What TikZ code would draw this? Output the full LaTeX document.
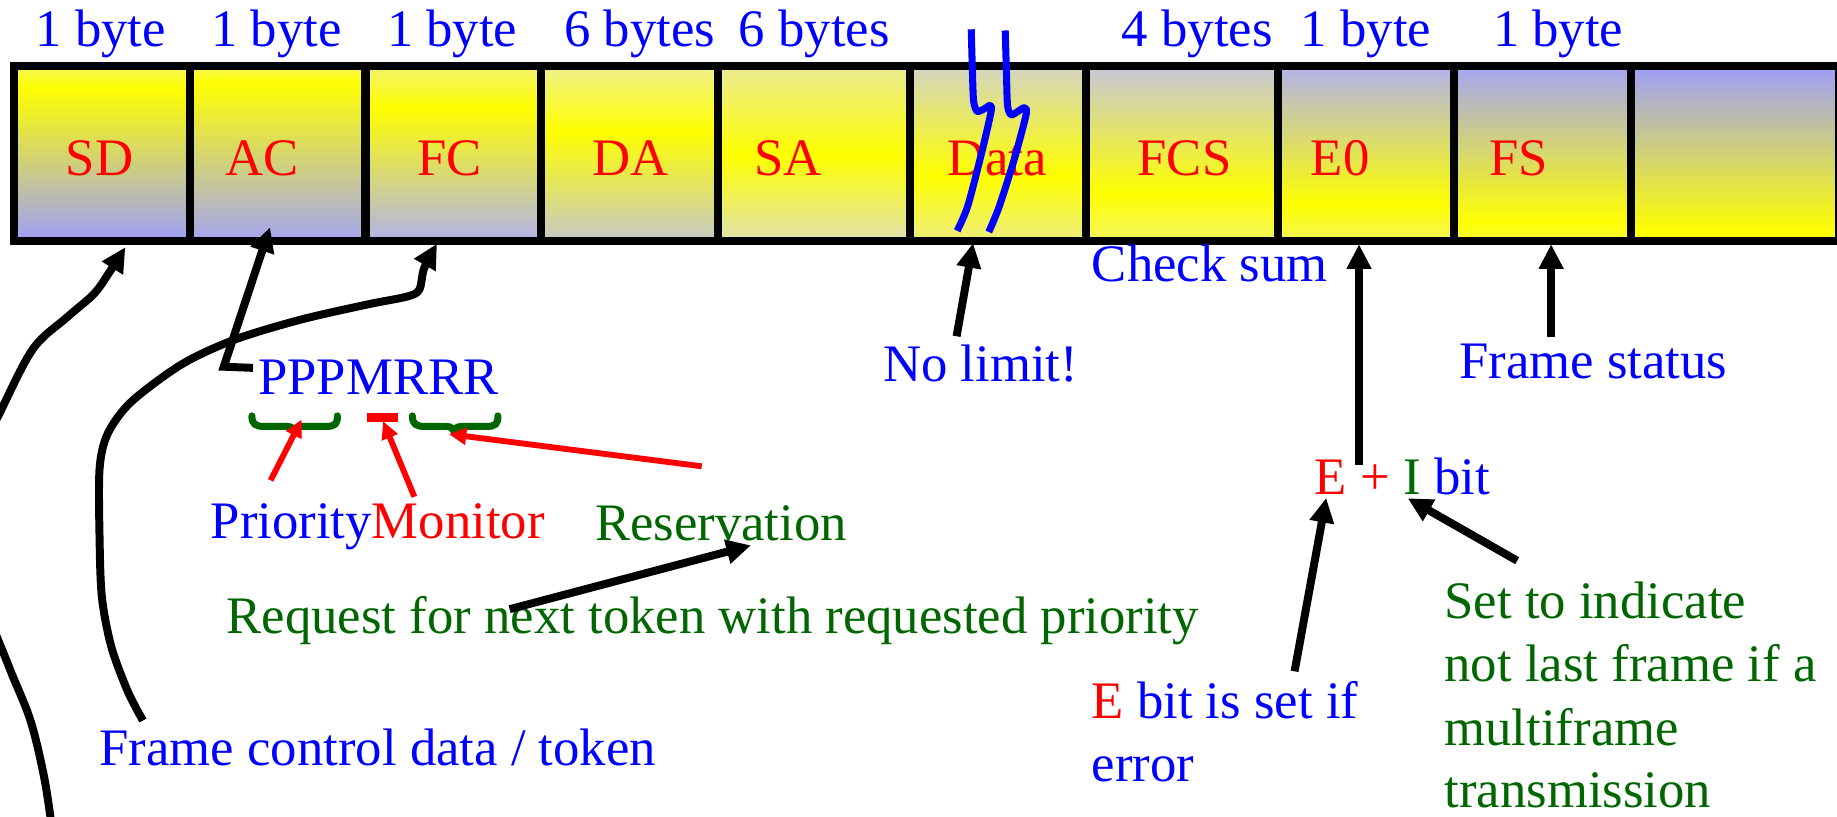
\documentclass[tikz,border=0pt]{standalone}
\usepackage{fontspec}
\setmainfont{Liberation Serif}
\usetikzlibrary{arrows.meta}
\definecolor{Yel}{RGB}{255,255,0}
\definecolor{tblue}{RGB}{0,0,255}
\definecolor{tred}{RGB}{255,0,0}
\definecolor{tgreen}{RGB}{0,102,0}
\definecolor{c1t}{RGB}{245,245,90}\definecolor{c1b}{RGB}{158,158,250}
\definecolor{c2t}{RGB}{245,245,90}\definecolor{c2b}{RGB}{165,165,242}
\definecolor{c3t}{RGB}{242,242,110}\definecolor{c3b}{RGB}{178,178,235}
\definecolor{c4t}{RGB}{240,240,140}\definecolor{c4b}{RGB}{200,200,200}
\definecolor{c5t}{RGB}{235,235,150}\definecolor{c5b}{RGB}{225,225,175}
\definecolor{c6t}{RGB}{212,212,195}\definecolor{c6b}{RGB}{238,238,125}
\definecolor{c7t}{RGB}{198,198,218}\definecolor{c7b}{RGB}{245,245,95}
\definecolor{c8t}{RGB}{178,178,238}\definecolor{c8b}{RGB}{245,245,90}
\definecolor{c9t}{RGB}{165,165,245}\definecolor{c9b}{RGB}{250,250,60}
\definecolor{c10t}{RGB}{158,158,250}\definecolor{c10b}{RGB}{252,252,40}
\tikzset{
  txt/.style={font=\fontsize{45}{54}\selectfont, inner sep=0pt, outer sep=0pt},
  lbl/.style={txt, anchor=base west},
  blk/.style={draw=black, line width=6.8pt, -{Triangle[length=21pt,width=20pt]}},
  redarr/.style={draw=tred, line width=5pt, -{Triangle[length=15pt,width=14pt]}},
  gbrace/.style={draw=tgreen, line width=6pt, line cap=round},
  brk/.style={draw=tblue, line width=6pt, line join=round},
  border/.style={draw=black, line width=7pt},
}
\begin{document}
\begin{tikzpicture}[x=1pt,y=-1pt]
\useasboundingbox (0,0) rectangle (1568,697);
\clip (0,0) rectangle (1568,697);
\fill[white] (0,0) rectangle (1568,697);

% ---- cell fills
\foreach \xa/\xb/\ct/\pk/\cb in {12/162/c1t/75/c1b, 162/312/c2t/70/c2b, 312/462/c3t/92/c3b,
  462/613/c4t/112/c4b, 613/777/c5t/132/c5b, 777/927/c6t/150/c6b, 927/1091/c7t/165/c7b,
  1091/1241/c8t/175/c8b, 1241/1392/c9t/190/c9b, 1392/1570/c10t/198/c10b}{
  \shade[top color=\ct, bottom color=Yel] (\xa,56.5) rectangle (\xb,\pk);
  \shade[top color=Yel, bottom color=\cb] (\xa,\pk-0.3) rectangle (\xb,205.5);
}
% ---- borders
\draw[border] (12,56.5) rectangle (1569.5,205.5);
\foreach \xd in {162,312,462,613,777,927,1091,1241,1392}{
  \draw[border] (\xd,56.5) -- (\xd,205.5);
}

% ---- size labels
\node[txt, anchor=base, text=tblue] (szSD) at (86,40) {1 byte};
\node[txt, anchor=base, text=tblue] (szAC) at (236,40) {1 byte};
\node[txt, anchor=base, text=tblue] (szFC) at (386,40) {1 byte};
\node[txt, anchor=base, text=tblue] (szDA) at (546,40) {6 bytes};
\node[txt, anchor=base, text=tblue] (szSA) at (695,40) {6 bytes};
\node[txt, anchor=base, text=tblue] (szFCS) at (1022,40) {4 bytes};
\node[txt, anchor=base, text=tblue] (szE0) at (1166,40) {1 byte};
\node[txt, anchor=base, text=tblue] (szFS) at (1330,40) {1 byte};

% ---- cell labels
\node[txt, anchor=base, text=tred] (lSD) at (85,149.5) {SD};
\node[txt, anchor=base, text=tred] (lAC) at (224,149.5) {AC};
\node[txt, anchor=base, text=tred] (lFC) at (384,149.5) {FC};
\node[txt, anchor=base, text=tred] (lDA) at (538,149.5) {DA};
\node[txt, anchor=base, text=tred] (lSA) at (672.5,149.5) {SA};
\node[txt, anchor=base, text=tred] (lData) at (851,149.5) {Data};
\node[txt, anchor=base, text=tred] (lFCS) at (1011,149.5) {FCS};
\node[txt, anchor=base, text=tred] (lE0) at (1144,149.5) {E0};
\node[txt, anchor=base, text=tred] (lFS) at (1296.5,149.5) {FS};

% ---- break marks in Data
\draw[brk] plot[smooth, tension=0.45] coordinates {(829,25) (830,60) (831,86) (834,95) (840,93) (845,90) (846,95) (838,130) (826,176) (817,197)};
\draw[brk] plot[smooth, tension=0.45] coordinates {(858,26) (859,60) (860,90) (863,98) (869,95) (874,92) (876,97) (866,135) (853,176) (844,198)};

% ---- texts below
\node[lbl, text=tblue] (cks) at (932,240.5) {Check sum};
\node[lbl, text=tblue] (nolim) at (754,326) {No limit!};
\node[lbl, text=tblue] (fstat) at (1245.5,323) {Frame status};
\node[lbl] (eib) at (1122.4,422.5) {\textcolor{tred}{E +} \textcolor{tgreen}{I} \textcolor{tblue}{bit}};
\node[lbl] (ebit1) at (931.8,613) {\textcolor{tred}{E} \textcolor{tblue}{bit is set if}};
\node[lbl, text=tblue] (ebit2) at (931.8,667) {error};
\node[lbl, text=tgreen] (set1) at (1233,528) {Set to indicate};
\node[lbl, text=tgreen] (set2) at (1233,582) {not last frame if a};
\node[lbl, text=tgreen] (set3) at (1233,636) {multiframe};
\node[lbl, text=tgreen] (set4) at (1233,689.5) {transmission};
\node[lbl, text=tblue] (ppp) at (220.5,336.5) {PPPMRRR};
\node[lbl] (prmon) at (180,460) {\textcolor{tblue}{Priority}\textcolor{tred}{Monitor}};
\node[lbl, text=tgreen] (resv) at (508,461) {Reservation};
\node[lbl, text=tgreen] (req) at (193.5,540.5) {Request for next token with requested priority};
\node[lbl, text=tblue] (fcd) at (85,653) {Frame control data / token};

% ---- braces and monitor bar
\draw[gbrace] (215,355) .. controls (215,362) and (218,364) .. (226,364) -- (245,364)
  .. controls (249,364) and (251,366) .. (251.5,368) .. controls (252,366) and (254,364) .. (258,364)
  -- (278,364) .. controls (286,364) and (288,362) .. (288,355);
\draw[gbrace] (352,355) .. controls (352,362) and (355,364) .. (363,364) -- (381,364)
  .. controls (385,364) and (387,366) .. (387.5,368) .. controls (388,366) and (390,364) .. (394,364)
  -- (415,364) .. controls (423,364) and (425,362) .. (425,355);
\fill[tred] (313,352.5) rectangle (340,360);

% ---- coordinates for connectors
\coordinate (sdFoot) at (45,712);
\coordinate (sdTip) at (107,211);
\coordinate (fcFoot) at (122,615);
\coordinate (fcTip) at (373,208);
\coordinate (acStart) at (216,314);
\coordinate (acBend) at (191,313);
\coordinate (acTip) at (230.5,194);
\coordinate (dataStart) at (816.5,287);
\coordinate (dataTip) at (830.6,207.5);
\coordinate (e0Start) at (1160,397);
\coordinate (e0Tip) at (1160,208.5);
\coordinate (fsStart) at (1324,288);
\coordinate (fsTip) at (1324,208.5);
\coordinate (eStart) at (1105,573);
\coordinate (eTip) at (1132,425);
\coordinate (iStart) at (1295,478.6);
\coordinate (iTip) at (1201.6,425.3);
\coordinate (rqStart) at (435,520);
\coordinate (rqTip) at (641,465.5);
\coordinate (prStart) at (231,410);
\coordinate (prTip) at (257.5,358);
\coordinate (moStart) at (353.7,424);
\coordinate (moTip) at (327,359.5);
\coordinate (rsStart) at (599,398);
\coordinate (rsTip) at (383,370.5);

% ---- black connectors
\draw[blk] plot[smooth, tension=0.55] coordinates {(sdFoot) (38,665) (26,615) (8,570) (-15,510) (-28,450) (-20,395) (0,352) (28,298) (57,271) (80,251) (93,233) (sdTip)};
\draw[blk] plot[smooth, tension=0.5] coordinates {(fcFoot) (109,590) (95,552) (87,510) (85,460) (85,400) (92,370) (112,343) (155,311) (200,290) (256,273) (313,260) (348,253) (358,247) (362,229) (fcTip)};
\draw[blk] (acStart) -- (acBend) -- (acTip);
\draw[blk] (dataStart) -- (dataTip);
\draw[blk] (e0Start) -- (e0Tip);
\draw[blk] (fsStart) -- (fsTip);
\draw[blk] (eStart) -- (eTip);
\draw[blk] (iStart) -- (iTip);
\draw[blk] (rqStart) -- (rqTip);

% ---- red connectors
\draw[redarr] (prStart) -- (prTip);
\draw[redarr] (moStart) -- (moTip);
\draw[redarr] (rsStart) -- (rsTip);
\end{tikzpicture}
\end{document}
